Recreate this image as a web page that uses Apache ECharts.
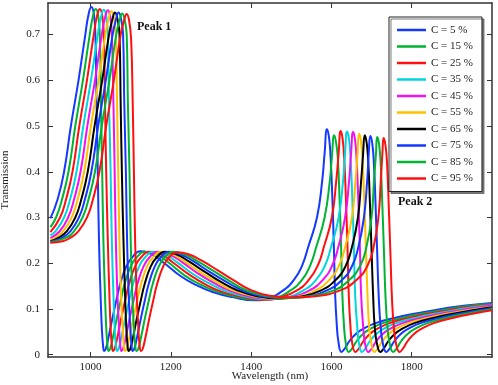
<!DOCTYPE html>
<html>
<head>
<meta charset="utf-8">
<script src="https://cdn.jsdelivr.net/npm/echarts@6/dist/echarts.min.js"></script>
<style>
  html, body { margin: 0; padding: 0; background: #fff; }
  #chart { width: 498px; height: 385px; }
</style>
</head>
<body>
<div id="chart"></div>
<script>
// tick values
const xTicks = [1000, 1200, 1400, 1600, 1800];
const yTicks = [0, 0.1, 0.2, 0.3, 0.4, 0.5, 0.6, 0.7];

// legend names
const names = ['C = 5 %', 'C = 15 %', 'C = 25 %', 'C = 35 %', 'C = 45 %',
               'C = 55 %', 'C = 65 %', 'C = 75 %', 'C = 85 %', 'C = 95 %'];

// transmission curves, [wavelength nm, transmission]
const c5 = [[900,0.298],[918,0.340],[934,0.40],[951,0.50],[970,0.60],[987,0.70],[995,0.744],[1002,0.760],
  [1008,0.746],[1012,0.70],[1015,0.55],[1018,0.40],[1021,0.25],[1025,0.13],[1028,0.06],[1031,0.022],[1034,0.008],
  [1038,0.013],[1044,0.035],[1054,0.078],[1064,0.118],[1074,0.155],[1089,0.193],[1104,0.213],[1124,0.226],
  [1154,0.219],[1184,0.200],[1224,0.172],[1264,0.152],[1304,0.137],[1354,0.126],[1409,0.119],[1444,0.124],
  [1479,0.14],[1507,0.164],[1527,0.195],[1542,0.235],[1564,0.30],[1577,0.38],[1583,0.44],[1589,0.493],
  [1594,0.475],[1598,0.43],[1602,0.35],[1606,0.24],[1609,0.14],[1613,0.07],[1618,0.025],[1625,0.006],
  [1632,0.012],[1645,0.030],[1660,0.045],[1680,0.057],[1710,0.069],[1760,0.081],[1810,0.090],[1860,0.098],
  [1910,0.105],[1960,0.110],[2000,0.113]];

const c15 = [[900,0.279],[914,0.300],[929,0.340],[945,0.40],[962,0.50],[981,0.60],[998,0.70],[1006,0.740],[1013,0.756],
  [1019,0.742],[1023,0.70],[1026,0.55],[1029,0.40],[1032,0.25],[1036,0.13],[1039,0.06],[1042,0.022],[1045,0.008],
  [1049,0.013],[1055,0.035],[1065,0.078],[1075,0.118],[1085,0.155],[1100,0.193],[1115,0.213],[1135,0.225],
  [1165,0.219],[1195,0.201],[1235,0.173],[1275,0.153],[1315,0.138],[1365,0.126],[1420,0.120],[1458,0.124],
  [1497,0.14],[1527,0.164],[1547,0.195],[1562,0.235],[1583,0.30],[1596,0.38],[1601,0.43],[1607,0.480],
  [1612,0.462],[1616,0.428],[1620,0.347],[1624,0.238],[1627,0.138],[1631,0.068],[1636,0.024],[1643,0.006],
  [1650,0.012],[1663,0.030],[1678,0.045],[1698,0.057],[1728,0.069],[1778,0.081],[1828,0.090],[1878,0.098],
  [1928,0.105],[1978,0.110],[2000,0.111]];

const c25 = [[900,0.268],[924,0.300],[939,0.340],[955,0.40],[972,0.50],[991,0.60],[1008,0.70],[1016,0.740],[1023,0.756],
  [1029,0.742],[1033,0.70],[1036,0.55],[1039,0.40],[1043,0.25],[1047,0.13],[1050,0.06],[1053,0.022],[1056,0.008],
  [1060,0.013],[1066,0.035],[1076,0.078],[1086,0.118],[1096,0.155],[1111,0.193],[1126,0.213],[1146,0.225],
  [1176,0.219],[1206,0.201],[1246,0.175],[1286,0.154],[1326,0.138],[1376,0.127],[1431,0.120],[1472,0.125],
  [1513,0.14],[1544,0.164],[1566,0.195],[1581,0.235],[1601,0.30],[1612,0.38],[1618,0.44],[1623,0.489],
  [1628,0.471],[1632,0.426],[1636,0.343],[1640,0.236],[1643,0.136],[1647,0.067],[1652,0.024],[1660,0.006],
  [1667,0.012],[1680,0.030],[1695,0.045],[1715,0.057],[1745,0.069],[1795,0.081],[1845,0.090],[1895,0.098],
  [1945,0.105],[2000,0.110]];

const c35 = [[900,0.261],[913,0.270],[934,0.30],[949,0.34],[965,0.40],[982,0.50],[1001,0.60],[1018,0.70],[1026,0.738],[1033,0.754],
  [1039,0.740],[1043,0.70],[1046,0.55],[1050,0.40],[1053,0.25],[1057,0.13],[1060,0.06],[1063,0.022],[1066,0.008],
  [1070,0.013],[1076,0.035],[1086,0.078],[1096,0.118],[1106,0.155],[1121,0.193],[1136,0.213],[1156,0.225],
  [1186,0.219],[1216,0.202],[1256,0.176],[1296,0.156],[1336,0.139],[1386,0.127],[1441,0.121],[1485,0.125],
  [1529,0.14],[1562,0.164],[1584,0.195],[1599,0.235],[1618,0.30],[1629,0.38],[1634,0.44],[1639,0.488],
  [1644,0.470],[1648,0.423],[1652,0.34],[1656,0.233],[1659,0.133],[1664,0.065],[1669,0.023],[1676,0.006],
  [1683,0.012],[1696,0.030],[1711,0.045],[1731,0.057],[1761,0.069],[1811,0.081],[1861,0.090],[1911,0.098],
  [1961,0.105],[2000,0.108]];

const c45 = [[900,0.255],[923,0.270],[944,0.30],[959,0.34],[975,0.40],[992,0.50],[1011,0.60],[1028,0.70],[1036,0.737],[1043,0.753],
  [1049,0.739],[1053,0.70],[1057,0.55],[1060,0.40],[1063,0.25],[1067,0.13],[1071,0.06],[1074,0.022],[1077,0.008],
  [1081,0.013],[1087,0.035],[1097,0.078],[1107,0.118],[1117,0.155],[1132,0.193],[1147,0.213],[1167,0.225],
  [1197,0.219],[1227,0.203],[1267,0.178],[1307,0.157],[1347,0.140],[1397,0.127],[1452,0.122],[1498,0.126],
  [1544,0.14],[1579,0.164],[1602,0.195],[1617,0.235],[1634,0.30],[1644,0.38],[1649,0.44],[1654,0.487],
  [1659,0.469],[1663,0.421],[1667,0.337],[1671,0.231],[1674,0.131],[1679,0.063],[1684,0.023],[1692,0.006],
  [1699,0.012],[1712,0.030],[1727,0.045],[1747,0.057],[1777,0.069],[1827,0.081],[1877,0.090],[1927,0.098],
  [1977,0.105],[2000,0.107]];

const c55 = [[900,0.251],[912,0.256],[932,0.270],[953,0.30],[968,0.34],[984,0.40],[1001,0.50],[1020,0.60],[1037,0.70],[1045,0.735],[1052,0.751],
  [1058,0.737],[1063,0.70],[1066,0.55],[1069,0.40],[1072,0.25],[1076,0.13],[1080,0.06],[1083,0.022],[1086,0.008],
  [1090,0.013],[1096,0.035],[1106,0.078],[1116,0.118],[1126,0.155],[1141,0.193],[1156,0.213],[1176,0.225],
  [1206,0.219],[1236,0.203],[1276,0.179],[1316,0.158],[1356,0.140],[1406,0.128],[1461,0.122],[1510,0.126],
  [1559,0.14],[1595,0.164],[1619,0.195],[1634,0.235],[1651,0.30],[1660,0.38],[1665,0.44],[1669,0.483],
  [1674,0.465],[1678,0.419],[1682,0.333],[1686,0.229],[1690,0.129],[1694,0.062],[1700,0.022],[1707,0.006],
  [1714,0.012],[1727,0.030],[1742,0.045],[1762,0.057],[1792,0.069],[1842,0.081],[1892,0.090],[1942,0.098],
  [2000,0.105]];

const c65 = [[900,0.248],[921,0.256],[941,0.270],[962,0.30],[977,0.34],[993,0.40],[1010,0.50],[1029,0.60],[1046,0.70],[1054,0.732],[1061,0.748],
  [1067,0.734],[1072,0.70],[1075,0.55],[1078,0.40],[1082,0.25],[1086,0.13],[1089,0.06],[1092,0.022],[1095,0.008],
  [1099,0.013],[1105,0.035],[1115,0.078],[1125,0.118],[1135,0.155],[1150,0.193],[1165,0.213],[1185,0.225],
  [1215,0.219],[1245,0.204],[1285,0.181],[1325,0.159],[1365,0.141],[1415,0.128],[1470,0.123],[1522,0.127],
  [1573,0.14],[1611,0.164],[1636,0.195],[1651,0.235],[1666,0.30],[1674,0.38],[1679,0.44],[1683,0.480],
  [1688,0.462],[1692,0.417],[1696,0.33],[1700,0.227],[1704,0.127],[1708,0.06],[1714,0.022],[1722,0.006],
  [1729,0.012],[1742,0.030],[1757,0.045],[1777,0.057],[1807,0.069],[1857,0.081],[1907,0.090],[1957,0.098],
  [2000,0.104]];

const c75 = [[900,0.247],[930,0.256],[950,0.270],[971,0.30],[986,0.34],[1002,0.40],[1019,0.50],[1038,0.60],[1055,0.70],[1063,0.732],[1070,0.748],
  [1076,0.734],[1081,0.70],[1084,0.55],[1088,0.40],[1091,0.25],[1095,0.13],[1099,0.06],[1102,0.022],[1105,0.008],
  [1109,0.013],[1115,0.035],[1125,0.078],[1135,0.118],[1145,0.155],[1160,0.193],[1175,0.213],[1195,0.225],
  [1225,0.219],[1255,0.205],[1295,0.182],[1335,0.161],[1375,0.142],[1425,0.128],[1480,0.124],[1534,0.127],
  [1587,0.14],[1627,0.164],[1652,0.195],[1667,0.235],[1681,0.30],[1689,0.38],[1693,0.44],[1697,0.478],
  [1702,0.460],[1706,0.414],[1710,0.327],[1714,0.224],[1718,0.124],[1723,0.058],[1729,0.021],[1737,0.006],
  [1744,0.012],[1757,0.030],[1772,0.045],[1792,0.057],[1822,0.069],[1872,0.081],[1922,0.090],[1972,0.098],
  [2000,0.102]];

const c85 = [[900,0.246],[939,0.256],[959,0.270],[980,0.30],[995,0.34],[1011,0.40],[1028,0.50],[1047,0.60],[1064,0.70],[1072,0.730],[1079,0.746],
  [1085,0.732],[1090,0.70],[1093,0.55],[1097,0.40],[1100,0.25],[1104,0.13],[1108,0.06],[1111,0.022],[1115,0.008],
  [1119,0.013],[1125,0.035],[1135,0.078],[1145,0.118],[1155,0.155],[1170,0.193],[1185,0.213],[1205,0.225],
  [1235,0.219],[1265,0.205],[1305,0.184],[1345,0.162],[1385,0.142],[1435,0.129],[1490,0.124],[1547,0.128],
  [1604,0.14],[1645,0.164],[1672,0.195],[1687,0.235],[1700,0.30],[1706,0.38],[1711,0.44],[1714,0.476],
  [1719,0.458],[1723,0.412],[1727,0.323],[1731,0.222],[1735,0.122],[1740,0.057],[1746,0.021],[1754,0.006],
  [1761,0.012],[1774,0.030],[1789,0.045],[1809,0.057],[1839,0.069],[1889,0.081],[1939,0.090],[1989,0.098],
  [2000,0.100]];

const c95 = [[900,0.245],[930,0.248],[950,0.256],[970,0.270],[991,0.30],[1006,0.34],[1022,0.40],[1039,0.50],[1058,0.60],[1075,0.70],[1083,0.729],[1090,0.745],
  [1096,0.731],[1101,0.69],[1105,0.55],[1108,0.40],[1111,0.25],[1115,0.13],[1119,0.06],[1122,0.022],[1126,0.008],
  [1130,0.013],[1136,0.035],[1146,0.078],[1156,0.118],[1166,0.155],[1181,0.193],[1196,0.213],[1216,0.224],
  [1246,0.219],[1276,0.206],[1316,0.185],[1356,0.163],[1396,0.143],[1446,0.129],[1501,0.125],[1560,0.128],
  [1620,0.14],[1663,0.164],[1690,0.195],[1705,0.235],[1717,0.30],[1723,0.38],[1727,0.44],[1730,0.474],
  [1735,0.456],[1739,0.41],[1743,0.32],[1747,0.22],[1751,0.12],[1756,0.055],[1762,0.02],[1770,0.006],
  [1777,0.012],[1790,0.030],[1805,0.045],[1825,0.057],[1855,0.069],[1905,0.081],[1955,0.090],[2000,0.097]];

const curves = [c5, c15, c25, c35, c45, c55, c65, c75, c85, c95];
const colors = ['#1438ff', '#00b332', '#ff1010', '#00d6dc', '#f010f0',
                '#ffc000', '#000000', '#1438ff', '#00b332', '#ff1010'];

const FONT = '"Liberation Serif", "Times New Roman", serif';
const axisColor = '#333';

const chart = echarts.init(document.getElementById('chart'));

const baseX = {
  type: 'value',
  min: 894,
  max: 2000,
  splitLine: { show: false },
  axisLine: { show: true, onZero: false, lineStyle: { color: axisColor, width: 1.5 } },
  axisTick: { show: true, inside: true, length: 5, customValues: xTicks, lineStyle: { color: axisColor } }
};
const baseY = {
  type: 'value',
  min: -0.005,
  max: 0.769,
  splitLine: { show: false },
  axisLine: { show: true, onZero: false, lineStyle: { color: axisColor, width: 1.5 } },
  axisTick: { show: true, inside: true, length: 5, customValues: yTicks, lineStyle: { color: axisColor } }
};

chart.setOption({
  animation: false,
  backgroundColor: '#fff',
  grid: { left: 48, right: 6, top: 3, bottom: 28, outerBoundsMode: 'none', containLabel: false },
  xAxis: [
    Object.assign({}, baseX, {
      position: 'bottom',
      name: 'Wavelength (nm)',
      nameLocation: 'middle',
      nameGap: 14,
      nameMoveOverlap: false,
      nameTextStyle: { fontFamily: FONT, fontSize: 11, color: '#222', verticalAlign: 'top' },
      axisLabel: {
        customValues: xTicks, margin: 5, fontFamily: FONT, fontSize: 11, color: '#222',
        formatter: (v) => String(v)
      }
    }),
    Object.assign({}, baseX, { position: 'top', axisLabel: { show: false } })
  ],
  yAxis: [
    Object.assign({}, baseY, {
      position: 'left',
      name: 'Transmission',
      nameLocation: 'middle',
      nameGap: 37,
      nameMoveOverlap: false,
      nameTextStyle: { fontFamily: FONT, fontSize: 11, color: '#222' },
      axisLabel: {
        customValues: yTicks, margin: 8, fontFamily: FONT, fontSize: 11, color: '#222',
        formatter: (v) => (v === 0 ? '0' : v.toFixed(1))
      }
    }),
    Object.assign({}, baseY, { position: 'right', axisLabel: { show: false } })
  ],
  legend: {
    orient: 'vertical',
    left: 389,
    top: 17,
    padding: [6, 9, 6, 8],
    itemWidth: 29,
    itemHeight: 2.5,
    itemGap: 2.5,
    icon: 'rect',
    backgroundColor: '#fff',
    borderColor: '#222',
    borderWidth: 1,
    shadowColor: 'rgba(90,90,90,0.8)',
    shadowBlur: 0,
    shadowOffsetX: 2,
    shadowOffsetY: 2,
    textStyle: { fontFamily: FONT, fontSize: 11, color: '#222', lineHeight: 14 },
    data: names
  },
  graphic: [
    { type: 'text', left: 137, top: 21, style: { text: 'Peak 1', font: 'bold 12px "Liberation Serif"', fill: '#111' } },
    { type: 'text', left: 398, top: 196, style: { text: 'Peak 2', font: 'bold 12px "Liberation Serif"', fill: '#111' } }
  ],
  series: curves.map((d, i) => ({
    name: names[i],
    type: 'line',
    data: d,
    xAxisIndex: 0,
    yAxisIndex: 0,
    showSymbol: false,
    smooth: 0.5,
    color: colors[i],
    lineStyle: { width: 2, color: colors[i] }
  }))
});
</script>
</body>
</html>
